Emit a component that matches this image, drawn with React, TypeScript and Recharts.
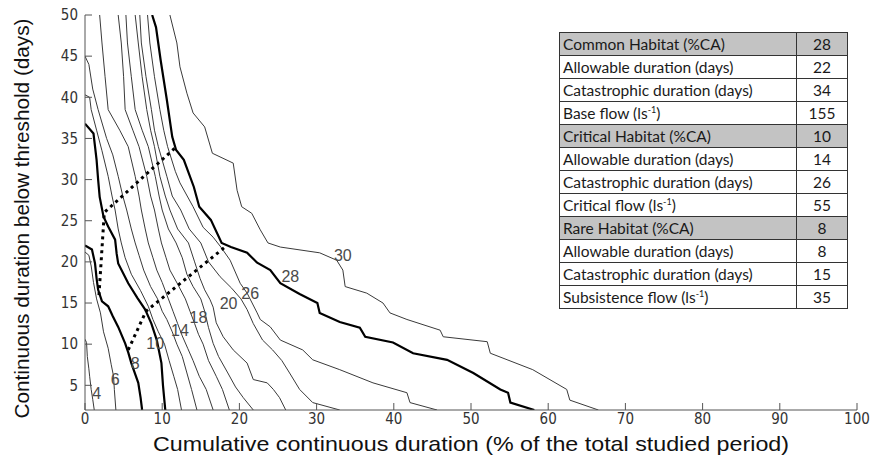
import { ComposedChart, Line, Scatter, XAxis, YAxis, Label } from "recharts";

// curve paths: [x (% of period), y (days)]
const c04: number[][] = [[0, 10.6], [0.2, 10.2], [0.3, 8.5], [0.5, 7], [0.6, 6.1], [0.8, 4.5], [1.0, 3.3], [1.2, 2]];
const c06: number[][] = [[0, 21.2], [0.5, 20.8], [0.8, 19.5], [1.1, 17.5], [1.5, 15.5], [2.0, 13.8], [2.4, 11.5], [3.0, 9.5], [3.4, 7.5], [3.7, 6.1], [3.8, 4.5], [4.0, 2]];
const c08: number[][] = [[0, 22.0], [0.9, 21.5], [1.3, 19.8], [1.5, 18], [1.7, 16.6], [2.2, 15.2], [3.0, 14.6], [3.6, 13.4], [4.3, 12.1], [5.2, 10.1], [5.6, 9.0], [6.0, 7.7], [6.9, 5.3], [7.2, 3.5], [7.4, 2]];
const c10: number[][] = [[0, 36.8], [1.1, 35.6], [1.3, 34], [1.5, 32.4], [1.7, 30], [1.9, 27.9], [2.4, 25.5], [3.0, 24.3], [3.9, 22.7], [4.1, 21], [4.3, 19.8], [5.6, 17.4], [6.8, 15.6], [7.8, 14.2], [8.6, 12.5], [9.3, 10.5], [9.9, 7.7], [10.1, 5], [10.4, 2]];
const c12: number[][] = [[0, 40.3], [0.6, 40.0], [0.8, 38.5], [1.5, 36], [2.2, 33.5], [3.0, 30.4], [3.5, 28], [3.9, 26.3], [4.3, 24], [4.7, 22.3], [5.2, 20.5], [6.0, 18.5], [7.2, 16.5], [8.2, 14.6], [8.8, 13], [9.5, 11.5], [10.3, 10], [10.9, 8], [11.5, 6.1], [12.0, 4.5], [12.5, 2]];
const c14: number[][] = [[0, 45.0], [0.5, 44.0], [1.0, 41], [1.7, 38.5], [2.8, 35], [3.6, 33], [4.3, 30.4], [4.9, 28], [5.4, 26.3], [6.0, 24], [6.5, 22.3], [7.0, 20.8], [7.6, 19], [8.5, 17], [9.4, 15.5], [10.0, 14], [10.6, 13], [11.3, 11.5], [11.9, 10], [12.6, 8.5], [13.2, 6.5], [13.8, 4.5], [14.5, 2]];
const c16: number[][] = [[1.9, 50], [2.2, 46.6], [2.6, 42.5], [3.0, 38.5], [4.5, 36], [5.6, 34], [6.5, 30.4], [7.0, 28], [7.3, 26.3], [7.8, 24], [8.2, 22.3], [8.8, 20.5], [9.3, 19], [10.0, 17.5], [10.8, 15.5], [11.4, 14], [12.0, 12.5], [12.6, 11], [13.3, 9.5], [14.0, 8], [14.8, 6.1], [15.7, 4.5], [16.6, 2]];
const c18: number[][] = [[4.3, 50], [4.7, 46.6], [5.0, 42.5], [5.2, 38.5], [6.2, 36], [7.0, 34], [8.0, 30.4], [8.5, 28], [9.0, 26.3], [9.5, 24], [9.9, 22.3], [10.5, 20.5], [11.0, 19], [12.0, 17.3], [13.0, 15.5], [13.6, 14], [14.2, 12.5], [14.7, 11.2], [15.3, 10], [16.0, 8], [17.0, 6.1], [17.8, 4.5], [18.7, 2]];
const c20: number[][] = [[5.3, 50], [5.5, 46.6], [6.0, 42.5], [6.5, 38.5], [7.4, 36], [8.2, 34], [9.1, 30.4], [9.6, 28], [10.0, 26.3], [10.8, 24], [11.8, 22.3], [12.6, 20.5], [13.2, 18.5], [14.0, 17], [15.0, 15.5], [15.5, 14], [16.0, 12], [16.6, 10.1], [17.3, 8.5], [18.5, 6.5], [19.5, 4.8], [20.5, 3.5], [21.8, 2]];
const c22: number[][] = [[6.5, 50], [6.9, 46.6], [7.4, 42.5], [8.0, 38.5], [8.5, 36], [9.0, 34], [9.7, 30.4], [10.4, 28], [11.0, 26.3], [12.0, 24], [13.4, 22.3], [14.2, 20], [14.9, 18], [15.5, 16.6], [16.2, 15.4], [16.6, 14.5], [17.0, 12.6], [17.9, 10.9], [19.2, 9.3], [21.0, 7.7], [21.8, 5.7], [23.6, 5.3], [24.4, 4.5], [25.2, 3.5], [26.0, 2]];
const c24: number[][] = [[7.1, 50], [7.3, 46.6], [7.9, 42.5], [8.6, 38.5], [9.0, 36], [9.5, 34], [10.6, 30.4], [11.3, 28], [12.4, 26.3], [13.5, 24], [15.0, 22.3], [16.0, 20], [17.5, 18.2], [19.0, 16.8], [20.2, 15.5], [21.0, 14.2], [21.8, 12.5], [23.0, 10.5], [24.3, 9.3], [25.5, 8], [26.5, 6.5], [27.8, 4.5], [29.5, 2.9], [33.0, 2]];
const c26: number[][] = [[8.1, 50], [8.4, 46.6], [9.0, 42.5], [9.7, 38.5], [10.2, 36], [10.7, 34], [11.7, 31], [12.3, 29.6], [14.0, 26.7], [15.3, 24.2], [16.6, 23.0], [17.6, 21.8], [18.8, 20.2], [20.1, 17.4], [21.0, 16.2], [22.3, 13.8], [22.7, 13.0], [24.0, 12.1], [25.3, 10.5], [28.2, 9.3], [29.5, 8.1], [33.0, 6.9], [37.3, 5.3], [41.7, 4.1], [42.1, 2.9], [45.6, 2]];
const c28: number[][] = [[8.7, 50], [9.2, 48.5], [9.8, 44.5], [10.6, 39.7], [11.3, 35.2], [11.8, 33.6], [12.8, 32.4], [14.1, 29.1], [14.8, 26.7], [16.3, 25.1], [17.7, 22.3], [18.9, 21.8], [21.0, 21.1], [22.3, 19.9], [24.0, 19.0], [25.3, 17.4], [27.8, 16.1], [30.1, 15.0], [30.4, 13.8], [33.0, 12.7], [35.6, 12.0], [36.3, 10.9], [39.9, 10.2], [42.5, 8.9], [46.9, 8.1], [50.3, 6.5], [53.8, 4.5], [54.8, 4.1], [55.1, 2.9], [58.2, 2]];
const c30: number[][] = [[11.0, 50], [11.9, 46.6], [12.3, 43.7], [13.2, 40.5], [14.0, 38.1], [15.5, 36.4], [16.5, 33.2], [19.2, 32.0], [19.7, 28.7], [20.3, 26.7], [21.6, 25.9], [22.7, 23.9], [23.7, 22.3], [25.3, 21.8], [30.4, 21.1], [32.6, 20.2], [33.4, 19.0], [33.7, 17.0], [36.5, 16.2], [38.6, 15.0], [39.5, 13.8], [41.7, 13.0], [46.0, 11.7], [46.4, 10.9], [52.1, 10.3], [52.5, 8.9], [58.0, 6.9], [62.4, 4.5], [62.8, 3.2], [66.5, 2]];

const curveLabels = ["4", "6", "8", "10", "14", "18", "20", "26", "28", "30"];
const curveLabelX = [1.5, 3.9, 6.5, 9.1, 12.3, 14.7, 18.6, 21.4, 26.6, 33.4];
const curveLabelY = [4.0, 5.7, 7.7, 10.1, 11.7, 13.2, 15.0, 16.2, 18.2, 20.8];

// dotted links: catastrophic and allowable durations on the 28 / 10 / 8 curves
const catastrophicLink: number[][] = [[11.6, 33.8], [2.5, 26.0], [1.8, 15.8]];
const allowableLink: number[][] = [[18.0, 21.7], [7.9, 14.0], [5.5, 9.1]];

const xTicks = [0, 10, 20, 30, 40, 50, 60, 70, 80, 90, 100];
const yTicks = [5, 10, 15, 20, 25, 30, 35, 40, 45, 50];

const tableLabels = [
  "Common Habitat (%CA)",
  "Allowable duration (days)",
  "Catastrophic duration (days)",
  "Base flow (ls-1)",
  "Critical Habitat (%CA)",
  "Allowable duration (days)",
  "Catastrophic duration (days)",
  "Critical flow (ls-1)",
  "Rare Habitat (%CA)",
  "Allowable duration (days)",
  "Catastrophic duration (days)",
  "Subsistence flow (ls-1)",
];
const tableValues = [28, 22, 34, 155, 10, 14, 26, 55, 8, 8, 15, 35];

const curves = [
  { name: "4", pts: c04 },
  { name: "6", pts: c06 },
  { name: "8", pts: c08 },
  { name: "10", pts: c10 },
  { name: "12", pts: c12 },
  { name: "14", pts: c14 },
  { name: "16", pts: c16 },
  { name: "18", pts: c18 },
  { name: "20", pts: c20 },
  { name: "22", pts: c22 },
  { name: "24", pts: c24 },
  { name: "26", pts: c26 },
  { name: "28", pts: c28 },
  { name: "30", pts: c30 },
];
const boldCurves = ["8", "10", "28"];

const toXY = (pts: number[][]) => pts.map(([x, y]) => ({ x, y }));

const labelData = curveLabels.map((t, i) => ({ x: curveLabelX[i], y: curveLabelY[i], t }));

const tickFont = "'Liberation Sans Narrow', 'DejaVu Sans Condensed', 'Liberation Sans', sans-serif";
const axisFont = "'Liberation Sans', Arial, sans-serif";

function CurveLabel(props: any) {
  const { cx, cy, payload } = props;
  return (
    <text x={cx} y={cy} textAnchor="middle" dominantBaseline="central" fontSize={16} fill="#4a4a4a" fontFamily={axisFont}>
      {payload.t}
    </text>
  );
}

function XTitle(props: any) {
  const vb = props.viewBox;
  return (
    <text
      x={vb.x + vb.width / 2}
      y={vb.y + vb.height - 11}
      textAnchor="middle"
      fontSize={21}
      textLength={636}
      lengthAdjust="spacingAndGlyphs"
      fill="#111"
      fontFamily={axisFont}
    >
      Cumulative continuous duration (% of the total studied period)
    </text>
  );
}

function YTitle(props: any) {
  const vb = props.viewBox;
  const cx = vb.x + 22;
  const cy = vb.y + vb.height / 2 + 6;
  return (
    <text
      x={cx}
      y={cy}
      transform={`rotate(-90, ${cx}, ${cy})`}
      textAnchor="middle"
      dominantBaseline="central"
      fontSize={20}
      textLength={400}
      lengthAdjust="spacingAndGlyphs"
      fill="#111"
      fontFamily={axisFont}
    >
      Continuous duration below threshold (days)
    </text>
  );
}

function FlowLabel({ text }: { text: string }) {
  if (text.endsWith("(ls-1)")) {
    return (
      <>
        {text.slice(0, -6)}(ls<sup style={{ fontSize: 9, lineHeight: 0, verticalAlign: "6px" }}>-1</sup>)
      </>
    );
  }
  return <>{text}</>;
}

function HabitatTable() {
  return (
    <table
      style={{
        position: "absolute",
        left: 559,
        top: 32,
        borderCollapse: "collapse",
        fontFamily: "Lato, 'Open Sans', sans-serif",
        fontSize: 15.5,
        color: "#1a1a1a",
        background: "#fff",
      }}
    >
      <tbody>
        {tableLabels.map((lab, i) => {
          const head = i % 4 === 0;
          const cell = {
            border: "1px solid #333",
            height: 22,
            padding: "0 3px",
            background: head ? "#c3c3c3" : "#fff",
            lineHeight: "22px",
            whiteSpace: "nowrap" as const,
          };
          return (
            <tr key={i}>
              <td style={{ ...cell, width: 230 }}>
                <FlowLabel text={lab} />
              </td>
              <td style={{ ...cell, width: 44, textAlign: "center" }}>{tableValues[i]}</td>
            </tr>
          );
        })}
      </tbody>
    </table>
  );
}

export default function App() {
  return (
    <div style={{ position: "absolute", left: 0, top: 0, width: 871, height: 462, background: "#fff" }}>
      <ComposedChart width={871} height={462} margin={{ top: 15, right: 14, bottom: 0, left: 0 }}>
        <XAxis
          type="number"
          dataKey="x"
          domain={[0, 100]}
          ticks={xTicks}
          height={52}
          allowDataOverflow
          stroke="#555"
          tickSize={-7}
          tickMargin={10}
          tick={{ fontSize: 15, fill: "#333", fontFamily: tickFont }}
        >
          <Label content={<XTitle />} />
        </XAxis>
        <XAxis
          xAxisId="top"
          orientation="top"
          type="number"
          domain={[0, 100]}
          ticks={xTicks}
          height={0}
          stroke="#555"
          tickSize={-7}
          tick={false}
        />
        <YAxis
          type="number"
          dataKey="y"
          domain={[2, 50]}
          ticks={yTicks}
          width={85}
          allowDataOverflow
          stroke="#555"
          tickSize={-7}
          tickMargin={14}
          tick={{ fontSize: 15, fill: "#333", fontFamily: tickFont }}
        >
          <Label content={<YTitle />} />
        </YAxis>
        <YAxis
          yAxisId="right"
          orientation="right"
          type="number"
          domain={[2, 50]}
          ticks={yTicks}
          width={0}
          stroke="#555"
          tickSize={-7}
          tick={false}
        />
        {curves.map((c) => {
          const bold = boldCurves.includes(c.name);
          return (
            <Line
              key={c.name}
              data={toXY(c.pts)}
              dataKey="y"
              type="linear"
              stroke={bold ? "#000" : "#3a3a3a"}
              strokeWidth={bold ? 2.2 : 1}
              dot={false}
              activeDot={false}
              isAnimationActive={false}
            />
          );
        })}
        <Line
          data={toXY(catastrophicLink)}
          dataKey="y"
          type="linear"
          stroke="#000"
          strokeWidth={3}
          strokeDasharray="3 4"
          dot={false}
          activeDot={false}
          isAnimationActive={false}
        />
        <Line
          data={toXY(allowableLink)}
          dataKey="y"
          type="linear"
          stroke="#000"
          strokeWidth={3}
          strokeDasharray="3 4"
          dot={false}
          activeDot={false}
          isAnimationActive={false}
        />
        <Scatter data={labelData} dataKey="y" shape={<CurveLabel />} isAnimationActive={false} />
      </ComposedChart>
      <HabitatTable />
    </div>
  );
}
